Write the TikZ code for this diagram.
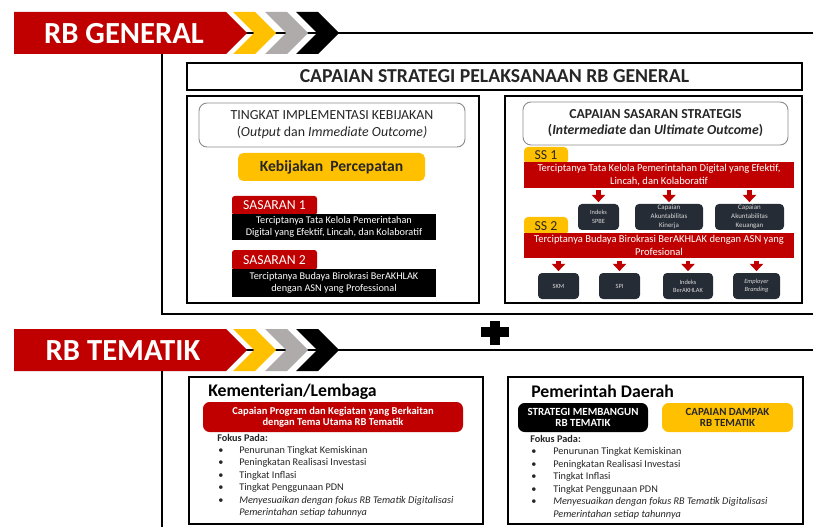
\documentclass[tikz,border=0pt]{standalone}
\usepackage{fontspec}
\setmainfont{Carlito}
\usetikzlibrary{arrows.meta}
\definecolor{rbred}{HTML}{C00000}
\definecolor{rbyel}{HTML}{FFC000}
\definecolor{rbgray}{HTML}{AFABAB}
\definecolor{rbdark}{HTML}{262C36}
\definecolor{txt}{HTML}{262626}
\newcommand\fsz[2]{\fontsize{#1}{#2}\selectfont}
\begin{document}
\begin{tikzpicture}[x=0.75pt,y=-0.75pt,
  area/.style args={#1/#2/#3/#4}{minimum width={(#3-#1)*0.75pt}, minimum height={(#4-#2)*0.75pt}, at={({(#1+#3)/2},{(#2+#4)/2})}},
  frame/.style={line width=2.2pt,draw=black},
  bannertext/.style={text=white,inner sep=0pt,font=\bfseries\fsz{23}{25}},
  bigbox/.style={draw=black,line width=1.8pt,inner sep=0pt},
  headbox/.style={draw=black!45,line width=0.7pt,rounded corners=6pt,inner sep=0pt,align=center,text=txt},
  yelbox/.style={fill=rbyel,rounded corners=4pt,inner sep=0pt,align=center,text=txt},
  redtab/.style={fill=rbred,rounded corners=2pt,inner sep=0pt,text=white,font=\fsz{10.3}{12}},
  blkbox/.style={fill=black,inner sep=0pt,align=center,text=white,font=\fsz{7.7}{8.7}},
  yeltab/.style={fill=rbyel,rounded corners=3pt,inner sep=0pt,text=txt,font=\fsz{10.3}{12}},
  redbar/.style={fill=rbred,inner sep=0pt,align=center,text=white,font=\fsz{7.9}{9.75}},
  darkbox/.style={fill=rbdark,rounded corners=3pt,inner sep=0pt,align=center,text=white!85!black,font=\fsz{4.8}{6.3}},
  arr/.style={draw=rbred,line width=3.4pt,-{Triangle[width=10pt,length=5.5pt]}},
  listline/.style={anchor=base west,inner sep=0pt,text=txt,font=\fsz{7.7}{9}},
  redbox/.style={fill=rbred,rounded corners=5pt,inner sep=0pt,align=center,text=white,font=\bfseries\fsz{7.9}{8.6}},
  blkround/.style={fill=black,rounded corners=5pt,inner sep=0pt,align=center,text=white,font=\bfseries\fsz{8.2}{8.7}},
  yelround/.style={fill=rbyel,rounded corners=5pt,inner sep=0pt,align=center,text=txt,font=\bfseries\fsz{8.2}{8.7}},
  sectitle/.style={anchor=base west,inner sep=0pt,text=black,font=\bfseries\fsz{13.3}{15}},
]
\useasboundingbox (0,0) rectangle (813,527);

% ---------- RB GENERAL banner ----------
\draw[frame] (240,33) -- (813,33);
\draw[frame] (162,54) -- (162,314) -- (813,314);
\fill[rbred] (14,12) -- (226,12) -- (247,33) -- (226,54) -- (14,54) -- cycle;
\node[bannertext] (rbg) at (124,34) {RB GENERAL};
\fill[rbyel]  (233,12) -- ++(22,0) -- ++(21,21) -- ++(-21,21) -- ++(-22,0) -- ++(21,-21) -- cycle;
\fill[rbgray] (265,12) -- ++(22,0) -- ++(21,21) -- ++(-21,21) -- ++(-22,0) -- ++(21,-21) -- cycle;
\fill[black]  (296,12) -- ++(22,0) -- ++(21,21) -- ++(-21,21) -- ++(-22,0) -- ++(21,-21) -- cycle;

% ---------- top boxes ----------
\node[bigbox,area=187/63/802/90,font=\bfseries\fsz{14.8}{16},text=txt] (title) {CAPAIAN STRATEGI PELAKSANAAN RB GENERAL};
\node[bigbox,area=187/96/479/303] (lbox) {};
\node[bigbox,area=505/96/802/303] (rbox) {};

% left box
\node[headbox,area=199/103/465/147,font=\fsz{10.4}{12.75}] (lhead) {TINGKAT IMPLEMENTASI KEBIJAKAN\\(\textit{Output} dan \textit{Immediate Outcome)}};
\node[yelbox,area=238/153/425/181,font=\bfseries\fsz{11.7}{13}] (kp) {Kebijakan\ \ Percepatan};
\node[redtab,area=232/196/317/215] (sas1) {SASARAN 1};
\node[blkbox,area=232/214/436/240] (sas1t) {Terciptanya Tata Kelola Pemerintahan\\Digital yang Efektif, Lincah, dan Kolaboratif};
\node[redtab,area=232/250/317/270] (sas2) {SASARAN 2};
\node[blkbox,area=232/269/436/297] (sas2t) {Terciptanya Budaya Birokrasi BerAKHLAK\\dengan ASN yang Professional};

% right box
\node[headbox,area=523/102/788/145,font=\bfseries\fsz{10.3}{12}] (rhead) {CAPAIAN SASARAN STRATEGIS\\(\textit{Intermediate} dan \textit{Ultimate Outcome})};
\node[yeltab,area=524/147/568/164] (ss1) {SS 1};
\node[redbar,area=524/162/794/188] (bar1) {Terciptanya Tata Kelola Pemerintahan Digital yang Efektif,\\Lincah, dan Kolaboratif};
\node[darkbox,area=578/204/619/230] (spbe) {Indeks\\SPBE};
\node[darkbox,area=635/204/703/230,font=\fsz{5.2}{6.6}] (akk) {Capaian\\Akuntabilitas\\Kinerja};
\node[darkbox,area=715/204/784/230,font=\fsz{5.2}{6.6}] (aku) {Capaian\\Akuntabilitas\\Keuangan};
\node[yeltab,area=524/217/568/235] (ss2) {SS 2};
\node[redbar,area=524/233/794/258] (bar2) {Terciptanya Budaya Birokrasi BerAKHLAK dengan ASN yang\\Profesional};
\node[darkbox,area=538/273/579/299] (skm) {SKM};
\node[darkbox,area=599/273/640/299] (spi) {SPI};
\node[darkbox,area=663/273/713/299] (iba) {Indeks\\BerAKHLAK};
\node[darkbox,area=733/273/780/299] (emp) {\textit{Employer}\\\textit{Branding}};

\foreach \b in {spbe,akk,aku}
  \draw[arr] ([yshift=-1.5pt]bar1.south -| \b.north) -- ([yshift=1.2pt]\b.north);
\foreach \b in {skm,spi,iba,emp}
  \draw[arr] ([yshift=-2pt]bar2.south -| \b.north) -- ([yshift=1.2pt]\b.north);

% plus
\fill[black] (481,327) rectangle (509,337);
\fill[black] (490,321) rectangle (500,345);

% ---------- RB TEMATIK banner ----------
\draw[frame] (240,350) -- (813,350);
\draw[frame] (162,371) -- (162,530);
\fill[rbred] (14,329) -- (226,329) -- (247,350) -- (226,371) -- (14,371) -- cycle;
\node[bannertext] (rbt) at (123,351) {RB TEMATIK};
\fill[rbyel]  (233,329) -- ++(22,0) -- ++(21,21) -- ++(-21,21) -- ++(-22,0) -- ++(21,-21) -- cycle;
\fill[rbgray] (265,329) -- ++(22,0) -- ++(21,21) -- ++(-21,21) -- ++(-22,0) -- ++(21,-21) -- cycle;
\fill[black]  (296,329) -- ++(22,0) -- ++(21,21) -- ++(-21,21) -- ++(-22,0) -- ++(21,-21) -- cycle;

% ---------- bottom boxes ----------
\node[bigbox,area=189/377/483/524] (kl) {};
\node[bigbox,area=508/377/803/524] (pd) {};

\node[sectitle] (klt) at (208,396) {Kementerian/Lembaga};
\node[redbox,area=203/402/463/432] (klr) {Capaian Program dan Kegiatan yang Berkaitan\\dengan Tema Utama RB Tematik};
\node[listline,font=\bfseries\fsz{7.7}{9}] (klf) at (217,441) {Fokus Pada:};
\foreach \t [count=\i] in {Penurunan Tingkat Kemiskinan,Peningkatan Realisasi Investasi,Tingkat Inflasi,Tingkat Penggunaan PDN,\textit{Menyesuaikan\ dengan fokus\ RB Tematik Digitalisasi}}{
  \node[listline] (klb\i) at (218,441+12.4*\i) {•};
  \node[listline] (kli\i) at (239,441+12.4*\i) {\t};
}
\node[listline,font=\itshape\fsz{7.7}{9}] (kli6) at (239,441+12.4*6) {Pemerintahan setiap tahunnya};

\node[sectitle] (pdt) at (531,397) {Pemerintah Daerah};
\node[blkround,area=518/403/648/432] (pdb) {STRATEGI MEMBANGUN\\RB TEMATIK};
\node[yelround,area=662/403/793/432] (pdy) {CAPAIAN DAMPAK\\RB TEMATIK};
\node[listline,font=\bfseries\fsz{7.7}{9}] (pdf) at (530,442) {Fokus Pada:};
\foreach \t [count=\i] in {Penurunan Tingkat Kemiskinan,Peningkatan Realisasi Investasi,Tingkat Inflasi,Tingkat Penggunaan PDN,\textit{Menyesuaikan\ dengan fokus\ RB Tematik Digitalisasi}}{
  \node[listline] (pdb\i) at (531,442+12.5*\i) {•};
  \node[listline] (pdi\i) at (553,442+12.5*\i) {\t};
}
\node[listline,font=\itshape\fsz{7.7}{9}] (pdi6) at (553,442+12.5*6) {Pemerintahan setiap tahunnya};
\end{tikzpicture}
\end{document}
